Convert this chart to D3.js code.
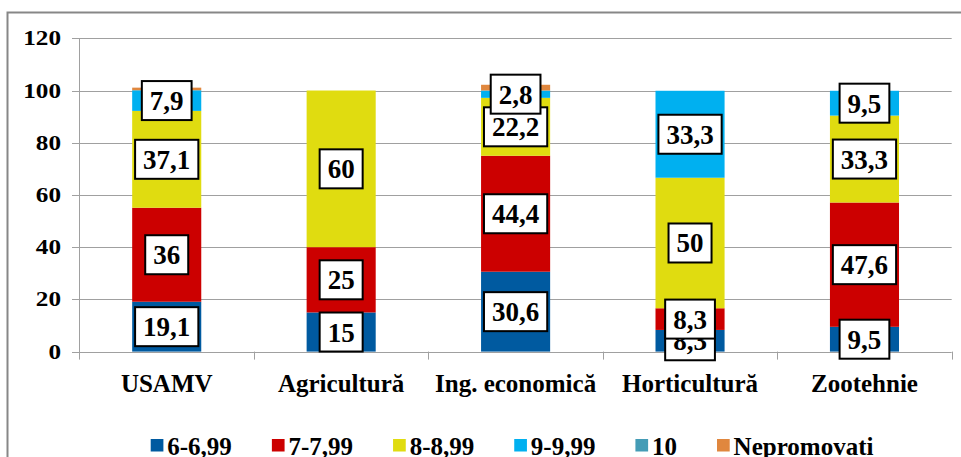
<!DOCTYPE html>
<html><head><meta charset="utf-8">
<script src="https://cdn.jsdelivr.net/npm/d3@7"></script>
<style>
body{margin:0;background:#fff}
svg{display:block}
</style>
</head><body>
<svg id="c" width="961" height="457"></svg>
<script>
// ---- data ----
const categories = ["USAMV", "Agricultură", "Ing. economică", "Horticultură", "Zootehnie"];
const seriesNames = ["6-6,99", "7-7,99", "8-8,99", "9-9,99", "10", "Nepromovati"];
const s6_699 = [19.1, 15, 30.6, 8.3, 9.5];
const s7_799 = [36, 25, 44.4, 8.3, 47.6];
const s8_899 = [37.1, 60, 22.2, 50, 33.3];
const s9_999 = [7.9, 0, 2.8, 33.3, 9.5];
const s10 = [0, 0, 0, 0, 0];
const sNepromovati = [1.0, 0, 2.2, 0, 0];
const showLabels = [true, true, true, true, false, false];
const yTicks = [0, 20, 40, 60, 80, 100, 120];
const colors = ["#005AA0", "#CC0000", "#E0DC10", "#00B0F0", "#449CB6", "#E0873E"];

const seriesValues = [s6_699, s7_799, s8_899, s9_999, s10, sNepromovati];
const rows = categories.map((c, i) => {
  const r = {cat: c};
  seriesNames.forEach((s, j) => r[s] = seriesValues[j][i]);
  return r;
});

// ---- layout ----
const FONT = '"Liberation Serif", "Times New Roman", Tinos, serif';
const svg = d3.select("#c");
const txt = (sel, size) => sel.style("font-family", FONT).style("font-weight", "bold")
  .style("font-size", size + "px").style("fill", "#000");
const pLeft = 79.5, pRight = 951.7, pTop = 38.3, pBottom = 351.6;
const y = d3.scaleLinear().domain([0, 120]).range([pBottom, pTop]);
const x = d3.scaleBand().domain(categories).range([pLeft, pRight]).padding(0);
const barW = x.bandwidth() * 0.396;

// outer frame
svg.append("rect").attr("x", 7.5).attr("y", 12.5).attr("width", 1000).attr("height", 500)
  .attr("fill", "none").attr("stroke", "#878787").attr("stroke-width", 2);

// grid + y ticks
const g = svg.append("g");
yTicks.forEach(t => {
  g.append("line").attr("x1", pLeft - 7.5).attr("x2", pRight)
    .attr("y1", Math.round(y(t)) + 0.5).attr("y2", Math.round(y(t)) + 0.5)
    .attr("stroke", "#a0a0a0").attr("stroke-width", 1);
  txt(g.append("text").attr("text-anchor", "end")
    .attr("transform", `translate(61,${y(t) + 7}) scale(1.2,1)`), 21).text(t);
});
// y axis line
g.append("line").attr("x1", pLeft).attr("x2", pLeft).attr("y1", pTop).attr("y2", pBottom + 8)
  .attr("stroke", "#a0a0a0");
// x ticks at band boundaries
categories.forEach(c => {
  const xx = Math.round(x(c) + x.bandwidth()) + 0.5;
  g.append("line").attr("x1", xx).attr("x2", xx).attr("y1", pBottom).attr("y2", pBottom + 8)
    .attr("stroke", "#a0a0a0");
});

// stacked bars
const stack = d3.stack().keys(seriesNames)(rows);
stack.forEach((layer, j) => {
  svg.append("g").selectAll("rect").data(layer).join("rect")
    .attr("x", d => x(d.data.cat) + (x.bandwidth() - barW) / 2)
    .attr("width", barW)
    .attr("y", d => y(d[1]))
    .attr("height", d => y(d[0]) - y(d[1]))
    .attr("fill", colors[j]);
});

// data labels
const fmt = v => String(v).replace(".", ",");
stack.forEach((layer, j) => {
  if (!showLabels[j]) return;
  layer.forEach(d => {
    const v = d[1] - d[0];
    if (v <= 0) return;
    const cx = x(d.data.cat) + x.bandwidth() / 2;
    const cy = y((d[0] + d[1]) / 2);
    const lg = svg.append("g");
    const box = lg.append("rect");
    const t = txt(lg.append("text").attr("x", cx).attr("y", cy + 9.5).attr("text-anchor", "middle"), 27)
      .text(fmt(+v.toFixed(1)));
    const w = t.node().getComputedTextLength() + 16;
    box.attr("x", cx - w / 2).attr("y", cy - 19.5).attr("width", w).attr("height", 39)
      .attr("fill", "#fff").attr("stroke", "#000").attr("stroke-width", 2);
  });
});

// x labels
categories.forEach(c => {
  txt(svg.append("text").attr("x", x(c) + x.bandwidth() / 2).attr("y", 392)
    .attr("text-anchor", "middle"), 25).text(c);
});

// legend
const legend = svg.append("g");
let lx = 150.7;
seriesNames.forEach((s, j) => {
  legend.append("rect").attr("x", lx).attr("y", 439).attr("width", 12.7).attr("height", 12.5)
    .attr("fill", colors[j]);
  const t = txt(legend.append("text").attr("x", lx + 16.6).attr("y", 455), 25).text(s);
  lx += 16.6 + t.node().getComputedTextLength() + 40;
});
</script>
</body></html>
